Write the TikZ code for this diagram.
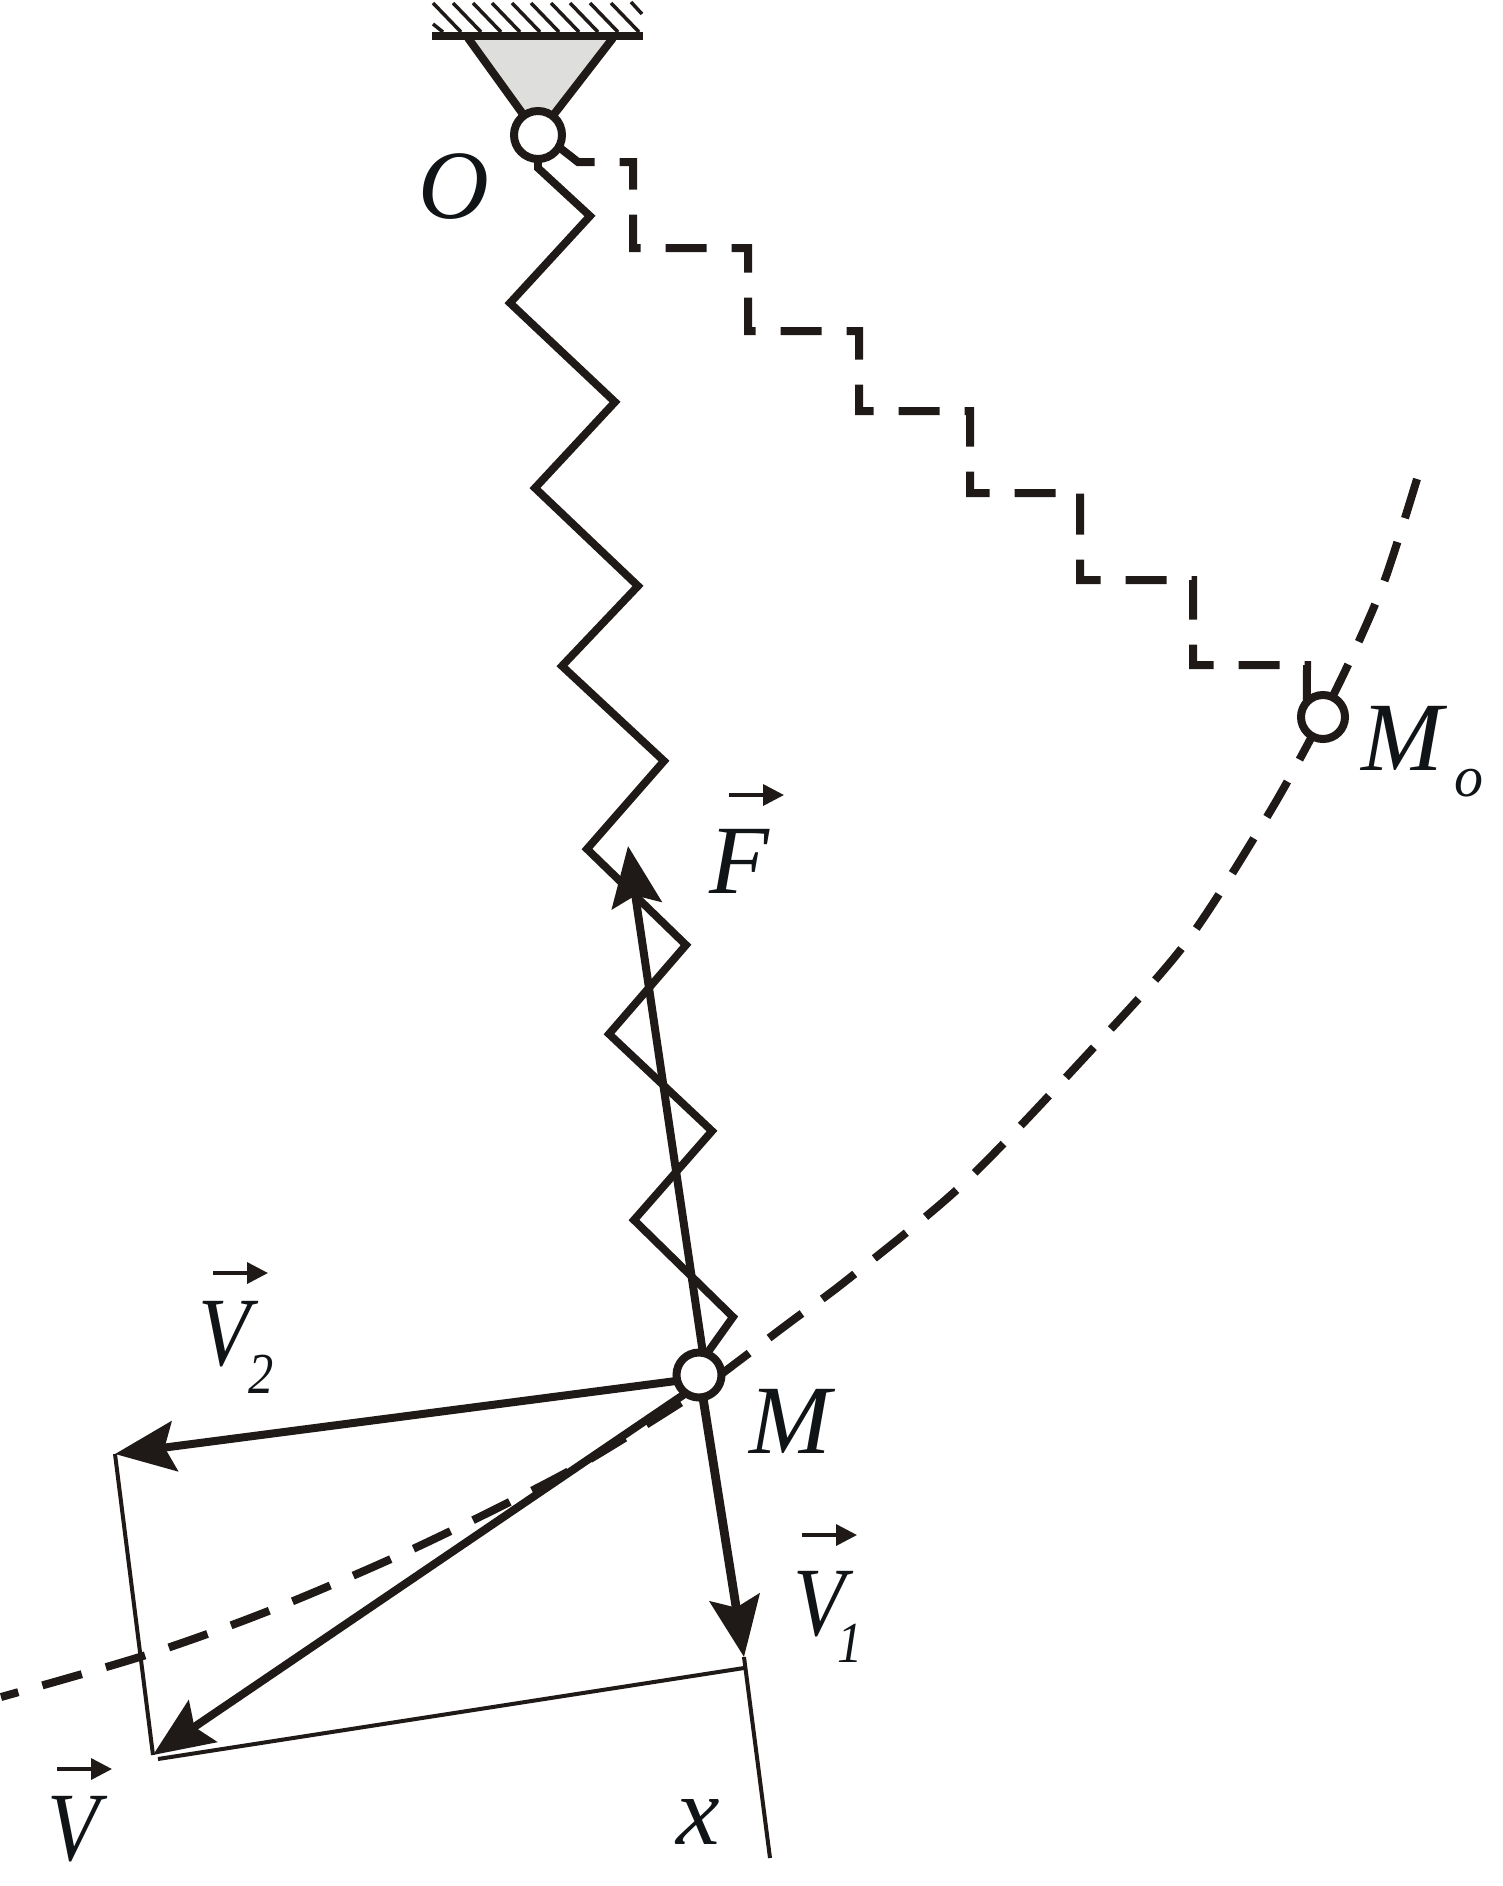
\documentclass[tikz,border=0pt]{standalone}
\usepackage{fontspec}
\setmainfont{Liberation Serif}
\newfontface\slimface[FakeStretch=0.87]{Liberation Serif Italic}
\usetikzlibrary{arrows.meta}
\definecolor{ink}{HTML}{1F1A17}
\definecolor{lettering}{HTML}{111416}
\definecolor{mount}{HTML}{DEDEDC}
\newcommand{\lowered}[3]{\kern#1\raisebox{-#2}{\fontsize{29}{29}\selectfont#3}}
\begin{document}
\begin{tikzpicture}[x=0.5pt, y=-0.5pt, >=stealth, line join=miter]
        \tikzstyle{joint}=[draw=ink, fill=white, shape=circle, line width=4pt, inner sep=0pt, outer sep=0pt, minimum size=22.5pt]
        \tikzstyle{guide}=[draw=ink, line width=2pt]
        \tikzstyle{hatch}=[draw=ink, line width=1.75pt]
        \tikzstyle{spring}=[draw=ink, line width=3.9pt]
        \tikzstyle{dashline}=[draw=ink, line width=4pt, dash pattern=on 20.5pt off 12.5pt]
        \tikzstyle{vector}=[draw=ink, line width=4pt, -{Stealth[length=30pt, width=25pt, inset=5pt, color=ink]}]
        \tikzstyle{overbar}=[draw=ink, line width=1.8pt, -{Triangle[length=10.5pt, width=10.5pt, color=ink]}]
        \tikzstyle{letter}=[text=lettering, anchor=base west, inner sep=0pt, font=\fontsize{49}{49}\selectfont\itshape]

        \useasboundingbox (0,0) rectangle (1503,1886);

        \coordinate (Oc) at (538,135);
        \coordinate (baseL) at (468,38);
        \coordinate (baseR) at (613,38);
        \coordinate (tipF) at (628,846);
        \coordinate (tipV1) at (744,1657);
        \coordinate (tipV2) at (115,1454);
        \coordinate (tipV) at (153,1755);
        \coordinate (cornerR) at (744,1668);
        \coordinate (cornerL) at (158,1759);
        \coordinate (axisEnd) at (770,1858);

        \foreach \x in {433,453,473,492,512,531,551,570,590,611}
                \draw[hatch] (\x,3) -- ++(28,29);
        \draw[hatch] (433,24) -- (443,32);
        \draw[hatch] (631,2) -- (642,14);
        \draw[draw=ink, fill=mount, line width=4pt] (baseL) -- (Oc) -- (baseR);
        \draw[draw=ink, line width=4pt] (432,36) -- (643,36);

        \draw[dashline] plot[smooth] coordinates {(1417,479) (1384,582) (1347,667) (1310,740) (1265,820) (1185,944) (1083,1059) (962,1185) (847,1280) (793,1320) (740,1360) (699,1391)};
        \draw[dashline, dash phase=11.5pt] plot[smooth] coordinates {(1,1697) (146,1655) (271,1610) (415,1548) (571,1470) (699,1391)};

        \node[joint, minimum size=24pt](O) at (Oc){};
        \node[joint](M) at (699,1375){};
        \node[joint, minimum size=22pt](Mo) at (1323,717){};

        \draw[spring] (O.south) -- (538,168) -- (590,216) -- (510,303) -- (615,402) -- (535,488) -- (638,586) -- (562,666) -- (664,761) -- (587,849) -- (686,945) -- (609,1034) -- (712,1131) -- (634,1220) -- (733,1317) -- (M.70);
        \draw[dashline] (O.-30) -- (578,162) -- (633,162) -- (633,248) -- (748,248) -- (748,331) -- (859,331) -- (859,411) -- (970,411) -- (970,493) -- (1080,493) -- (1080,580) -- (1193,580) -- (1193,665) -- (1307,665) -- (Mo.137);

        \draw[guide] (tipV1) -- (axisEnd);
        \draw[guide] (tipV2) -- (tipV);
        \draw[guide] (cornerR) -- (cornerL);

        \draw[vector] (M.80) -- (tipF);
        \draw[vector, line width=4.4pt] (M.-80) -- (tipV1);
        \draw[vector] (M.195) -- (tipV2);
        \draw[vector] (M.234) -- (tipV);

        \node[letter](labelO) at (418,218){O};
        \node[letter](labelM) at (749,1453){M};
        \node[letter](labelMo) at (1361,770){M\lowered{5.7pt}{13pt}{o}};
        \node[letter](labelF) at (709,893){F};
        \node[letter](labelV) at (47,1860){\slimface V};
        \node[letter](labelVa) at (793,1635){\slimface V\lowered{-4pt}{13.5pt}{\upshape 1}};
        \node[letter](labelVb) at (198,1365){\slimface V\lowered{-1pt}{14pt}{\upshape 2}};
        \node[letter](labelx) at (676,1844){x};

        \foreach \x/\y in {729/795, 213/1273, 802/1535, 57/1769}
                \draw[overbar] (\x,\y) -- ++(55,0);
\end{tikzpicture}
\end{document}
